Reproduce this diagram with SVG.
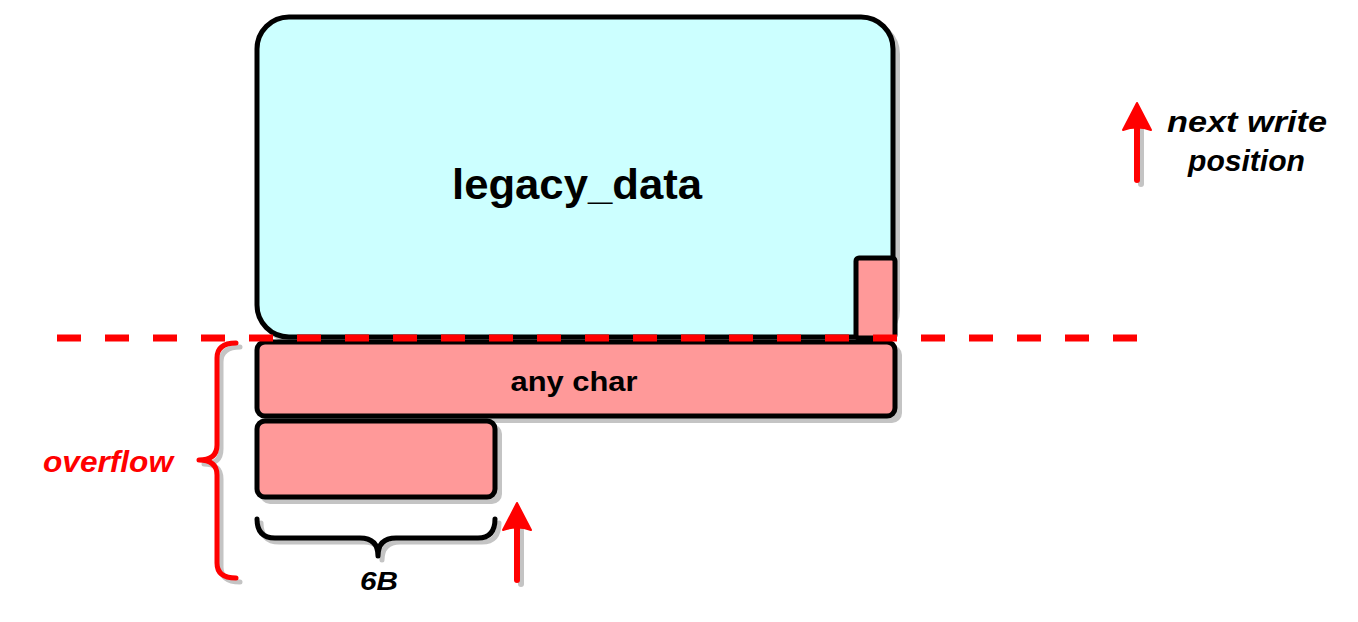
<svg xmlns="http://www.w3.org/2000/svg" width="1358" height="622" viewBox="0 0 1358 622">
<style>
.box{stroke:#000;stroke-width:5;stroke-linejoin:round}
.cyan{fill:#ccffff}
.pink{fill:#ff9999}
.sh{fill:#c4c4c4;stroke:#c4c4c4;stroke-width:4}
.shl{fill:none;stroke:#c4c4c4;stroke-linecap:round;stroke-linejoin:round}
.lbl{font-family:"Liberation Sans","DejaVu Sans",sans-serif;font-weight:bold;fill:#000}
.it{font-style:italic}
.red{fill:#ff0000}
</style>
<g id="legacy_data">
<rect class="sh" x="262" y="22" width="636" height="320" rx="32"/>
<rect class="box cyan" x="257" y="17" width="636" height="320" rx="32"/>
<text class="lbl" x="577" y="199" font-size="43" text-anchor="middle" textLength="250" lengthAdjust="spacingAndGlyphs">legacy_data</text>
</g>
<g id="corner_byte">
<rect class="box pink" x="856" y="258" width="39" height="80" rx="3"/>
</g>
<g id="any_char">
<rect class="sh" x="262" y="347" width="638" height="74" rx="8"/>
<rect class="box pink" x="257" y="342" width="638" height="74" rx="8"/>
<text class="lbl" x="574" y="391" font-size="28" text-anchor="middle" textLength="127" lengthAdjust="spacingAndGlyphs">any char</text>
</g>
<g id="six_bytes">
<rect class="sh" x="262" y="426" width="238" height="76" rx="8"/>
<rect class="box pink" x="257" y="421" width="238" height="76" rx="8"/>
</g>
<g id="connectors">
<line x1="57" y1="338" x2="1138" y2="338" stroke="#ff0000" stroke-width="7" stroke-dasharray="24 24"/>
<path class="shl" stroke-width="5" d="M240,347 Q221,347 221,362 L221,449 Q221,464 204,464 Q221,464 221,479 L221,567 Q221,582 240,582"/>
<path fill="none" stroke="#ff0000" stroke-width="5" stroke-linecap="round" stroke-linejoin="round" d="M236,343 Q217,343 217,358 L217,445 Q217,460 199,460 Q217,460 217,475 L217,563 Q217,578 236,578"/>
<path class="shl" stroke-width="5" d="M261,523 Q261,542 279,542 L364,542 Q382,542 382,560 Q382,542 400,542 L482,542 Q499,542 499,523"/>
<path fill="none" stroke="#000" stroke-width="5" stroke-linecap="round" stroke-linejoin="round" d="M257,519 Q257,538 275,538 L360,538 Q378,538 378,556 Q378,538 396,538 L478,538 Q495,538 495,519"/>
<line class="shl" x1="521" y1="530" x2="521" y2="584" stroke-width="6"/>
<line x1="517" y1="526" x2="517" y2="580" stroke="#ff0000" stroke-width="6" stroke-linecap="round"/>
<path fill="#ff0000" stroke="#ff0000" stroke-width="2" stroke-linejoin="round" d="M517,503 L531,530 Q517,525 503,530 Z"/>
<line class="shl" x1="1141" y1="124" x2="1141" y2="184" stroke-width="6"/>
<line x1="1137" y1="120" x2="1137" y2="180" stroke="#ff0000" stroke-width="6" stroke-linecap="round"/>
<path fill="#ff0000" stroke="#ff0000" stroke-width="2" stroke-linejoin="round" d="M1137,103 L1151,130 Q1137,125 1123,130 Z"/>
</g>
<g id="labels">
<text class="lbl it red" x="43" y="472" font-size="30" textLength="130" lengthAdjust="spacingAndGlyphs">overflow</text>
<text class="lbl it" x="360" y="590" font-size="26" textLength="38" lengthAdjust="spacingAndGlyphs">6B</text>
<text class="lbl it" x="1167" y="132" font-size="30" textLength="160" lengthAdjust="spacingAndGlyphs">next write</text>
<text class="lbl it" x="1188" y="171" font-size="30" textLength="117" lengthAdjust="spacingAndGlyphs">position</text>
</g>
</svg>
